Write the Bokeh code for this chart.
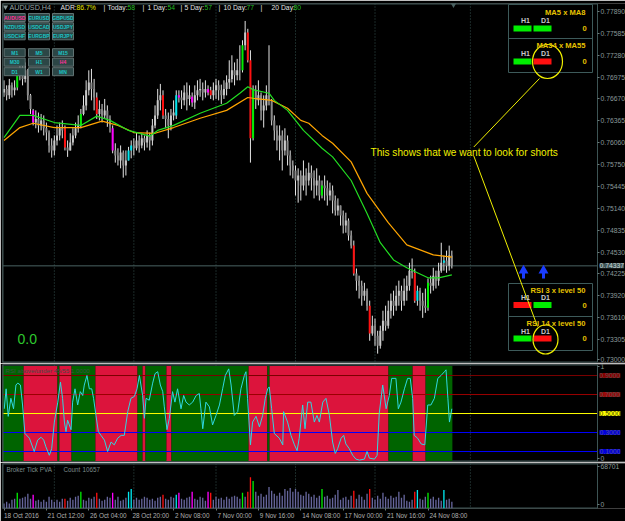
from bokeh.plotting import figure
from bokeh.layouts import column
from bokeh.models import Range1d, FixedTicker, Label, Span, NumeralTickFormatter, LinearAxis
from bokeh.embed import file_html
from bokeh.resources import INLINE

# ---------------- data (prices in 1/10000) ----------------
open_p4 = [7676, 7681, 7672, 7686, 7679, 7683, 7700, 7704, 7695, 7707,
           7672, 7651, 7634, 7639, 7630, 7637, 7626, 7620, 7602, 7595,
           7609, 7616, 7626, 7626, 7599, 7595, 7606, 7616, 7626, 7630,
           7646, 7658, 7679, 7690, 7681, 7669, 7646, 7653, 7644, 7651,
           7639, 7626, 7595, 7588, 7581, 7592, 7574, 7581, 7595, 7602,
           7598, 7609, 7602, 7612, 7606, 7616, 7609, 7630, 7644, 7665,
           7672, 7644, 7639, 7630, 7644, 7644, 7672, 7669, 7665, 7676,
           7667, 7670, 7662, 7672, 7679, 7681, 7676, 7681, 7679, 7672,
           7679, 7686, 7679, 7672, 7681, 7690, 7695, 7707, 7700, 7707,
           7707, 7742, 7760, 7721, 7612, 7679, 7665, 7672, 7651, 7658,
           7672, 7665, 7637, 7623, 7609, 7616, 7595, 7609, 7588, 7574,
           7567, 7553, 7560, 7546, 7560, 7553, 7564, 7556, 7546, 7553,
           7532, 7546, 7542, 7532, 7539, 7525, 7511, 7518, 7504, 7490,
           7497, 7476, 7462, 7423, 7413, 7406, 7392, 7399, 7378, 7339,
           7350, 7336, 7322, 7343, 7357, 7350, 7371, 7385, 7378, 7392,
           7399, 7385, 7399, 7406, 7427, 7424, 7385, 7399, 7385, 7378,
           7375, 7410, 7406, 7420, 7413, 7427, 7438, 7441, 7434, 7448]
high_p4 = [7693, 7686, 7695, 7690, 7693, 7707, 7716, 7714, 7718, 7709,
           7674, 7653, 7651, 7648, 7646, 7644, 7634, 7623, 7612, 7616,
           7630, 7634, 7637, 7630, 7609, 7619, 7626, 7634, 7644, 7653,
           7672, 7693, 7707, 7709, 7695, 7676, 7665, 7660, 7667, 7658,
           7644, 7630, 7605, 7598, 7602, 7595, 7595, 7600, 7609, 7612,
           7620, 7616, 7619, 7616, 7623, 7620, 7639, 7658, 7681, 7688,
           7679, 7653, 7648, 7653, 7665, 7679, 7679, 7679, 7686, 7690,
           7686, 7676, 7686, 7693, 7695, 7690, 7693, 7686, 7684, 7690,
           7695, 7693, 7687, 7693, 7700, 7721, 7728, 7718, 7723, 7742,
           7749, 7776, 7765, 7735, 7686, 7686, 7693, 7676, 7672, 7686,
           7742, 7667, 7644, 7630, 7630, 7623, 7626, 7616, 7595, 7581,
           7574, 7570, 7567, 7581, 7570, 7578, 7574, 7567, 7570, 7560,
           7553, 7560, 7553, 7550, 7546, 7532, 7528, 7518, 7511, 7508,
           7500, 7483, 7469, 7430, 7420, 7413, 7410, 7402, 7385, 7364,
           7360, 7343, 7350, 7371, 7378, 7385, 7395, 7399, 7406, 7413,
           7406, 7416, 7420, 7438, 7444, 7430, 7406, 7403, 7396, 7402,
           7416, 7420, 7431, 7427, 7438, 7466, 7448, 7455, 7462, 7455]
low_p4 = [7670, 7665, 7667, 7669, 7672, 7679, 7693, 7686, 7690, 7665,
          7646, 7630, 7626, 7620, 7623, 7616, 7609, 7592, 7585, 7588,
          7602, 7609, 7612, 7595, 7586, 7595, 7602, 7612, 7620, 7626,
          7644, 7651, 7672, 7665, 7651, 7639, 7637, 7634, 7639, 7628,
          7620, 7591, 7578, 7574, 7570, 7557, 7560, 7581, 7584, 7588,
          7595, 7592, 7598, 7595, 7599, 7595, 7602, 7626, 7639, 7651,
          7639, 7626, 7612, 7623, 7637, 7639, 7662, 7653, 7658, 7651,
          7658, 7656, 7653, 7665, 7670, 7665, 7669, 7672, 7667, 7665,
          7667, 7665, 7660, 7667, 7672, 7681, 7690, 7686, 7693, 7693,
          7704, 7735, 7718, 7578, 7609, 7653, 7658, 7637, 7627, 7651,
          7658, 7630, 7609, 7595, 7581, 7567, 7588, 7574, 7560, 7556,
          7532, 7522, 7525, 7539, 7532, 7546, 7539, 7528, 7532, 7525,
          7528, 7525, 7518, 7525, 7507, 7504, 7504, 7490, 7479, 7480,
          7469, 7458, 7420, 7399, 7388, 7378, 7385, 7371, 7329, 7336,
          7322, 7311, 7318, 7329, 7343, 7346, 7360, 7364, 7371, 7378,
          7371, 7378, 7385, 7399, 7416, 7382, 7378, 7371, 7361, 7368,
          7371, 7395, 7399, 7402, 7406, 7424, 7427, 7424, 7427, 7430]
close_p4 = [7681, 7672, 7686, 7679, 7683, 7700, 7704, 7695, 7707, 7672,
            7653, 7634, 7639, 7630, 7637, 7626, 7620, 7602, 7595, 7609,
            7616, 7626, 7623, 7599, 7595, 7606, 7616, 7626, 7630, 7646,
            7658, 7679, 7690, 7681, 7669, 7646, 7653, 7644, 7651, 7639,
            7630, 7595, 7588, 7581, 7592, 7574, 7581, 7595, 7602, 7598,
            7609, 7602, 7612, 7606, 7616, 7609, 7630, 7644, 7665, 7672,
            7644, 7639, 7630, 7644, 7648, 7672, 7669, 7665, 7676, 7667,
            7672, 7662, 7672, 7679, 7681, 7676, 7681, 7676, 7672, 7679,
            7686, 7679, 7672, 7681, 7690, 7695, 7707, 7700, 7707, 7707,
            7742, 7760, 7721, 7612, 7679, 7665, 7672, 7651, 7658, 7672,
            7665, 7637, 7623, 7609, 7616, 7595, 7609, 7588, 7574, 7567,
            7553, 7560, 7546, 7560, 7553, 7564, 7556, 7546, 7553, 7532,
            7546, 7542, 7532, 7539, 7525, 7511, 7518, 7504, 7490, 7497,
            7476, 7462, 7423, 7413, 7406, 7392, 7399, 7378, 7339, 7350,
            7336, 7322, 7343, 7357, 7350, 7371, 7385, 7378, 7392, 7399,
            7385, 7399, 7406, 7427, 7424, 7385, 7399, 7385, 7378, 7375,
            7410, 7406, 7420, 7413, 7427, 7438, 7441, 7434, 7448, 7434]

# PVA highlighted bars
pva_red = [23, 35, 60, 78, 92, 93, 132, 138, 155]
pva_green = [5, 29, 90, 94, 120, 160]
pva_magenta = [11, 41, 66, 71, 77]
pva_cyan = [47, 48, 65, 156, 166]

volume = [8000, 11200, 8000, 14400, 16000, 25600, 16000, 17600, 19200, 24000,
          16000, 22400, 12800, 14400, 11200, 14400, 11200, 19200, 14400, 11200,
          14400, 11200, 16000, 16000, 12800, 17600, 14400, 19200, 20800, 27200,
          14400, 12800, 17600, 16000, 19200, 25600, 16000, 12800, 14400, 19200,
          17600, 25600, 14400, 19200, 12800, 14400, 17600, 27200, 32000, 14400,
          17600, 14400, 16000, 19200, 17600, 14400, 16000, 12800, 17600, 19200,
          22400, 16000, 14400, 19200, 17600, 22400, 25600, 16000, 14400, 17600,
          19200, 27200, 16000, 14400, 19200, 17600, 12800, 27200, 25600, 14400,
          19200, 16000, 17600, 14400, 19200, 16000, 19200, 20800, 19200, 16000,
          25600, 19200, 27200, 51200, 44800, 27200, 20800, 24000, 19200, 22400,
          35200, 28800, 24000, 20800, 25600, 20800, 32000, 28800, 33600, 27200,
          32000, 27200, 22400, 20800, 27200, 24000, 19200, 22400, 17600, 20800,
          32000, 19200, 20800, 16000, 17600, 22400, 30400, 14400, 17600, 19200,
          14400, 20800, 28800, 16000, 22400, 19200, 14400, 24000, 32000, 17600,
          14400, 20800, 16000, 25600, 19200, 16000, 20800, 17600, 19200, 27200,
          17600, 22400, 12800, 11200, 14400, 27200, 30400, 16000, 14400, 19200,
          25600, 16000, 19200, 14400, 17600, 12800, 30400, 14400, 16000, 11200]

ma_fast_bar = [0, 6, 11, 19, 29, 35, 40, 47, 55, 58, 64, 74, 84, 89, 92, 94, 100, 102,
               107, 113, 120, 124, 131, 137, 142, 147, 152, 160, 164, 169]
ma_fast_p4 = [7613, 7644, 7644, 7634, 7630, 7643, 7637, 7623, 7615, 7623, 7630, 7647,
              7661, 7675, 7684, 7680, 7675, 7665, 7651, 7623, 7598, 7586, 7553, 7507,
              7466, 7442, 7431, 7417, 7417, 7421]
ma_slow_bar = [0, 6, 11, 19, 29, 37, 43, 49, 57, 64, 74, 84, 92, 94, 101, 107, 112, 115,
               120, 124, 131, 137, 145, 152, 162, 169]
ma_slow_p4 = [7609, 7627, 7633, 7627, 7627, 7636, 7630, 7620, 7619, 7627, 7640, 7651,
              7669, 7668, 7665, 7654, 7637, 7633, 7616, 7605, 7579, 7535, 7494, 7463,
              7449, 7446]

rsi_bar = [0.1, 0.8, 1.6, 2.6, 3.6, 4.5, 5.2, 6.2, 7.0, 7.9,
           9.6, 11.4, 12.7, 14.0, 15.0, 15.8, 17.1, 18.0, 19.0, 20.3,
           21.3, 22.1, 22.8, 23.4, 24.0, 25.3, 25.9, 26.8, 27.8, 28.8,
           29.7, 30.3, 31.3, 32.2, 33.1, 33.8, 34.7, 35.6, 36.6, 37.9,
           39.1, 40.4, 41.6, 42.9, 44.2, 45.4, 46.7, 47.9, 49.2, 50.2,
           51.1, 52.3, 53.0, 53.6, 54.8, 56.1, 57.0, 58.0, 59.0, 59.9,
           60.5, 61.5, 62.4, 63.6, 64.5, 65.5, 66.8, 67.8, 68.7, 69.9,
           71.2, 72.5, 73.7, 74.3, 75.0, 76.2, 77.5, 78.7, 80.0, 81.3,
           82.5, 83.5, 84.8, 85.7, 86.9, 88.2, 89.4, 90.7, 91.3, 91.9,
           93.0, 93.8, 95.1, 96.4, 97.6, 98.6, 99.5, 100.1, 101.0, 102.0,
           103.9, 105.2, 105.5, 107.0, 108.3, 109.6, 110.6, 111.4, 112.7, 113.6,
           114.6, 115.8, 117.1, 118.1, 119.0, 120.3, 121.5, 122.8, 124.0, 125.0,
           125.9, 127.2, 128.2, 129.0, 130.3, 131.6, 132.8, 134.1, 136.0, 137.0,
           137.9, 139.8, 140.8, 141.6, 142.9, 144.2, 145.4, 146.3, 147.9, 148.8,
           149.8, 151.1, 152.3, 153.3, 154.2, 154.8, 156.1, 157.4, 158.8, 159.9,
           161.1, 162.4, 163.7, 164.9, 166.2, 166.8, 167.5, 168.1, 169.0]
rsi_val = [0.55, 0.76, 0.47, 0.66, 0.55, 0.80, 0.82, 0.80, 0.59, 0.29,
           0.24, 0.10, 0.22, 0.25, 0.22, 0.15, 0.06, 0.13, 0.41, 0.62,
           0.83, 0.66, 0.41, 0.31, 0.43, 0.33, 0.62, 0.76, 0.59, 0.73,
           0.69, 0.80, 0.90, 0.76, 0.76, 0.66, 0.48, 0.31, 0.27, 0.22,
           0.10, 0.20, 0.17, 0.24, 0.27, 0.27, 0.52, 0.66, 0.68, 0.76,
           0.90, 0.69, 0.45, 0.66, 0.64, 0.82, 0.92, 0.94, 0.80, 0.73,
           0.57, 0.33, 0.45, 0.73, 0.62, 0.76, 0.55, 0.69, 0.62, 0.59,
           0.62, 0.69, 0.71, 0.55, 0.34, 0.62, 0.57, 0.38, 0.48, 0.59,
           0.76, 0.90, 0.97, 0.80, 0.48, 0.52, 0.76, 0.90, 0.94, 0.66,
           0.17, 0.41, 0.47, 0.36, 0.48, 0.66, 0.76, 0.78, 0.55, 0.29,
           0.24, 0.17, 0.52, 0.41, 0.27, 0.17, 0.11, 0.24, 0.59, 0.34,
           0.62, 0.62, 0.41, 0.48, 0.41, 0.62, 0.66, 0.48, 0.20, 0.08,
           0.13, 0.24, 0.27, 0.18, 0.13, 0.06, 0.02, 0.01, 0.02, 0.10,
           0.03, 0.02, 0.06, 0.50, 0.80, 0.55, 0.69, 0.87, 0.87, 0.55,
           0.62, 0.76, 0.87, 0.87, 0.66, 0.27, 0.24, 0.18, 0.17, 0.59,
           0.59, 0.66, 0.87, 0.90, 0.94, 0.96, 0.66, 0.41, 0.55]

band_start = [-0.5, 7.4, 20.2, 20.9, 25.5, 34.5, 50.4, 52.3, 53.4, 61.3, 63.2, 92.3,
              99.4, 100.2, 145.1, 154.2, 159.1]
band_end = [7.4, 20.2, 20.9, 25.5, 34.5, 50.4, 52.3, 53.4, 61.3, 63.2, 92.3, 99.4,
            100.2, 145.1, 154.2, 159.1, 169.2]
band_up = [True, False, True, False, True, False, True, False, True, False, True,
           False, True, False, True, False, True]

rsi_levels = [0.9, 0.7, 0.5, 0.3, 0.1]
rsi_level_text = ["0.9000", "0.7000", "0.5000", "0.3000", "0.1000"]

price_ticks = [0.77890, 0.77585, 0.77280, 0.76975, 0.76670, 0.76365, 0.76060, 0.75750,
               0.75445, 0.75140, 0.74835, 0.74530, 0.74225, 0.73920, 0.73610, 0.73305]
price_bottom_label = "0.73000"
current_price = 0.74337
vol_top_label = 68701

date_tick_bar = [0, 16, 32, 48, 64, 80, 96, 112, 128, 144, 160]
date_tick_label = ["18 Oct 2016", "21 Oct 12:00", "26 Oct 04:00", "28 Oct 20:00",
                   "2 Nov 08:00", "7 Nov 00:00", "9 Nov 16:00", "14 Nov 08:00",
                   "17 Nov 00:00", "21 Nov 16:00", "24 Nov 08:00"]
week_start_bar = [19, 49, 80, 110, 140, 176]

symbols = ["AUDUSD", "EURUSD", "GBPUSD", "NZDUSD", "USDCAD", "USDJPY",
           "USDCHF", "EURGBP", "EURJPY"]
timeframes = ["M1", "M5", "M15", "M30", "H1", "H4", "D1", "W1", "MN"]

# ---------------- layout constants (pixels) ----------------
FONT = "Liberation Sans"
FRAME_COL = "#3d5454"
AXIS_TXT = "#8a9999"
PX_PER_BAR = 2.65
BAR0_PX = 3.5
FRAME_L, FRAME_R = 2, 625     # frame spans the full width
AXIS_PX = 597                 # price scale drawn at this x
P_LO, P_HI = 0.72986, 0.78004
PF_TOP, PF_BOT = 3, 362
R_LO, R_HI = -0.005, 1.016
RF_TOP, RF_BOT = 364, 461
V_HI = 73500
VF_TOP, VF_BOT = 463, 509


def bx(px):
    return (px - BAR0_PX) / PX_PER_BAR


def py_price(py):
    return P_LO + (PF_BOT - py) * (P_HI - P_LO) / (PF_BOT - PF_TOP)


def py_rsi(py):
    return R_LO + (RF_BOT - py) * (R_HI - R_LO) / (RF_BOT - RF_TOP)


def py_vol(py):
    return (VF_BOT - py) * V_HI / (VF_BOT - VF_TOP)


def put(fig, x, y, text, color, size="7px", align="left", bold=False, bg=None):
    lab = Label(x=x, y=y, text=text, text_color=color, text_font_size=size,
                text_font=FONT, text_align=align, text_baseline="middle",
                text_font_style="bold" if bold else "normal")
    if bg is not None:
        lab.background_fill_color = bg
    fig.add_layout(lab)


# Liberation Sans advance widths (em) for left-aligning date labels
CHAR_W = {"0": .556, "1": .556, "2": .556, "3": .556, "4": .556, "5": .556,
          "6": .556, "7": .556, "8": .556, "9": .556, " ": .278, ":": .278,
          "O": .778, "N": .722, "c": .5, "t": .278, "o": .556, "v": .5}
NBSP_W = 0.278


def left_aligned(text, size_px, first=False, gap_px=1.5):
    if first:
        return "\u00a0\u00a0" + text
    w = sum(CHAR_W.get(ch, .55) for ch in text) * size_px
    k = int(round((w + 2 * gap_px) / (NBSP_W * size_px)))
    return "\u00a0" * k + text


n = len(close_p4)
bars = list(range(n))
o = [v / 10000 for v in open_p4]
h = [v / 10000 for v in high_p4]
l = [v / 10000 for v in low_p4]
c = [v / 10000 for v in close_p4]

RED, GREEN, MAG, CYAN = "#ff1010", "#00ee00", "#ff00ff", "#00e8f0"
pva = {}
for i in pva_red:
    pva[i] = RED
for i in pva_green:
    pva[i] = GREEN
for i in pva_magenta:
    pva[i] = MAG
for i in pva_cyan:
    pva[i] = CYAN
body_col = [pva.get(i, "#c8c8c8" if c[i] >= o[i] else "#8a8a8a") for i in bars]
vol_col = [pva.get(i, "#66669c") for i in bars]
btop = [max(o[i], c[i]) for i in bars]
bbot = [min(o[i], c[i]) for i in bars]

xr = Range1d(bx(FRAME_L), bx(FRAME_R))


def base_fig(height, yr, top, bottom):
    f = figure(width=625, height=height, x_range=xr, y_range=yr,
               x_axis_location=None, y_axis_location="right",
               output_backend="svg", toolbar_location=None,
               min_border_left=FRAME_L, min_border_right=0,
               min_border_top=top, min_border_bottom=bottom,
               background_fill_color="black", border_fill_color="black",
               outline_line_color=None)
    f.xgrid.grid_line_color = None
    f.ygrid.grid_line_color = None
    ax = f.yaxis[0]
    ax.fixed_location = bx(AXIS_PX)
    ax.axis_line_color = FRAME_COL
    ax.major_tick_line_color = "#6a7a7a"
    ax.major_tick_out = 2
    ax.major_tick_in = 0
    ax.minor_tick_line_color = None
    ax.major_label_standoff = 1
    ax.major_label_text_color = AXIS_TXT
    ax.major_label_text_font = FONT
    ax.major_label_text_font_size = "6.8px"
    for b in week_start_bar:
        f.add_layout(Span(location=b, dimension="height", line_color="#35524f",
                          line_dash="1 2", line_width=1, level="underlay"))
    # window border (left, top, bottom) up to the price scale
    f.add_layout(Span(location=xr.start, dimension="height", line_color=FRAME_COL,
                      line_width=2))
    f.segment(x0=[xr.start, xr.start], y0=[yr.start, yr.end],
              x1=[bx(AXIS_PX), bx(AXIS_PX)], y1=[yr.start, yr.end],
              line_color=FRAME_COL, line_width=2)
    return f


# ================= price panel =================
p = base_fig(363, Range1d(P_LO, P_HI), PF_TOP, 363 - PF_BOT)
price_bottom_pos = round(py_price(359.5), 5)
p.yaxis.ticker = FixedTicker(ticks=price_ticks + [price_bottom_pos])
p.yaxis.formatter = NumeralTickFormatter(format="0.00000")
p.yaxis.major_label_overrides = {price_bottom_pos: price_bottom_label}

p.segment(x0=[xr.start], y0=[current_price], x1=[bx(AXIS_PX)], y1=[current_price],
          line_color="#4a6262", line_width=1)
p.segment(x0=bars, y0=l, x1=bars, y1=h, line_color="#e4e4e4", line_width=1)
p.vbar(x=bars, width=0.75, top=btop, bottom=bbot, fill_color=body_col, line_color=None)
p.line(ma_slow_bar, [v / 10000 for v in ma_slow_p4], line_color="#ffa500", line_width=1.2)
p.line(ma_fast_bar, [v / 10000 for v in ma_fast_p4], line_color="#22dd22", line_width=1.2)

put(p, bx(599), current_price, "0.74337", "#c8d4d4", size="6.8px", bg="#41585a")

# chart shift marker
p.scatter([bx(453)], [py_price(4)], marker="inverted_triangle", size=6,
          fill_color="#4a6262", line_color=None)

# title and ADR line
p.scatter([bx(5)], [py_price(6.5)], marker="inverted_triangle", size=5,
          fill_color="#8a9a9a", line_color=None)
put(p, bx(9), py_price(6.5), "AUDUSD,H4", "#9aa6a6", size="7.2px")
WH, YE, GR = "#e0e0e0", "#e8e800", "#22bb22"
adr_parts = [(60, "ADR:", WH), (76, "86.7%", YE), (103, "|", WH), (107, "Today:", WH),
             (127, "58", GR), (142, "|", WH), (147, "1 Day:", WH), (167, "54", GR),
             (180, "|", WH), (184, "5 Day:", WH), (204, "57", GR), (218, "|", WH),
             (223, "10 Day:", WH), (246, "77", GR), (260, "|", WH), (271, "20 Day:", WH),
             (293, "80", GR)]
for xp, t, col in adr_parts:
    put(p, bx(xp), py_price(6.5), t, col, size="6.8px")

# buttons
col_px = [14.2, 38.5, 62.5]
sym_row_py = [17, 26.3, 35.3]
tf_row_py = [52.2, 61.7, 71.2]
for rows, labels, active in ((sym_row_py, symbols, "AUDUSD"), (tf_row_py, timeframes, "H4")):
    bxs, bys, txt = [], [], []
    for k, t in enumerate(labels):
        bxs.append(bx(col_px[k % 3]))
        bys.append(py_price(rows[k // 3]))
        txt.append(t)
    p.rect(bxs, bys, width=21, height=8, width_units="screen", height_units="screen",
           fill_color="#2c4646", line_color="#607272", line_width=1)
    for xx, yy, t in zip(bxs, bys, txt):
        put(p, xx, yy, t, "#ff3399" if t == active else "#1cc4c4", size="5px",
            align="center", bold=True)

put(p, bx(17), py_price(338), "0.0", "#2ec82e", size="14px")

# info boxes
GOLD = "#e6c200"
for cy, hgt in ((38, 68), (316.5, 67)):
    p.rect([bx(550)], [py_price(cy)], width=84, height=hgt, width_units="screen",
           height_units="screen", fill_color=None, line_color="#3d5a5a", line_width=1)
p.segment(x0=[bx(508), bx(508)], y0=[py_price(38), py_price(316)],
          x1=[bx(592), bx(592)], y1=[py_price(38), py_price(316)],
          line_color="#3d5a5a", line_width=1)
panels = [(12, 20, 28, "MA5 x MA8", GREEN, GREEN),
          (45, 53, 61, "MA34 x MA55", GREEN, RED),
          (289.5, 297, 304.5, "RSI 3 x level 50", RED, GREEN),
          (322.5, 331, 338, "RSI 14 x level 50", GREEN, RED)]
for ty, hy, by, title, c1, c2 in panels:
    put(p, bx(585), py_price(ty), title, GOLD, size="7.6px", align="right", bold=True)
    put(p, bx(525), py_price(hy), "H1", "#c8c8c8", size="7px", align="center", bold=True)
    put(p, bx(545), py_price(hy), "D1", "#c8c8c8", size="7px", align="center", bold=True)
    p.rect([bx(522), bx(542)], [py_price(by), py_price(by)], width=18, height=6,
           width_units="screen", height_units="screen", fill_color=[c1, c2], line_color=None)
    put(p, bx(584), py_price(by), "0", GOLD, size="7.6px", align="center", bold=True)

# blue arrows
p.scatter([bx(523), bx(543)], [py_price(270), py_price(270)], marker="triangle", size=10,
          fill_color="#1a3cff", line_color=None)
p.rect([bx(523), bx(543)], [py_price(275), py_price(275)], width=3, height=6,
       width_units="screen", height_units="screen", fill_color="#1a3cff", line_color=None)

# yellow annotation
YL = "#f0f000"
put(p, bx(370), py_price(152), "This shows that we want to look for shorts", YL,
    size="10.1px")
p.segment(x0=[bx(473.3), bx(473.3)], y0=[py_price(146.5), py_price(155.5)],
          x1=[bx(539), bx(537)], y1=[py_price(78), py_price(326)],
          line_color=YL, line_width=1)
p.ellipse([bx(547), bx(545)], [py_price(61), py_price(339)], width=[30, 25],
          height=[34, 29], width_units="screen", height_units="screen",
          fill_color=None, line_color=YL, line_width=1.2)

# ================= RSI panel =================
r = base_fig(99, Range1d(R_LO, R_HI), 1, 1)
rsi_zero_pos = round(py_rsi(458), 4)
r.yaxis.ticker = FixedTicker(ticks=[rsi_zero_pos, 1])
r.yaxis.major_label_overrides = {rsi_zero_pos: "0", 1: "1"}
r.quad(left=band_start, right=band_end, top=1.0, bottom=0.0,
       fill_color=["#006400" if u else "#dc143c" for u in band_up], line_color=None)
level_col = ["#7a0000", "#9a0000", "#ffff00", "#0000ff", "#0000ff"]
level_bg = ["#8b0000", "#9c0a0a", "#ffff00", "#0000dd", "#0000dd"]
level_txt = ["#505050", "#505050", "#404000", "#505090", "#505090"]
r.segment(x0=[xr.start] * 5, y0=rsi_levels, x1=[bx(AXIS_PX)] * 5, y1=rsi_levels,
          line_color=level_col, line_width=1)
for lv, t, bg, tc in zip(rsi_levels, rsi_level_text, level_bg, level_txt):
    put(r, bx(599), lv, t, tc, size="6.8px", bg=bg)
r.line(rsi_bar, rsi_val, line_color="#30d8e0", line_width=1)
put(r, bx(5), py_rsi(370), "RSI above/under 45/55  1.0000", "#3f4f47", size="6.2px")

# ================= volume panel =================
v = base_fig(59, Range1d(0, V_HI), 1, 521 - VF_BOT)
vol_zero_pos = round(py_vol(505))
v.yaxis.ticker = FixedTicker(ticks=[vol_zero_pos, vol_top_label])
v.yaxis.major_label_overrides = {vol_zero_pos: "0", vol_top_label: str(vol_top_label)}
v.vbar(x=bars, width=0.5, top=volume, bottom=0, fill_color=vol_col, line_color=None)
xa_size = 6.4
xa = LinearAxis(ticker=FixedTicker(ticks=date_tick_bar))
xa.major_label_overrides = {b: left_aligned(t, xa_size, first=(k == 0))
                            for k, (b, t) in enumerate(zip(date_tick_bar, date_tick_label))}
xa.axis_line_color = None
xa.major_tick_line_color = "#6a7a7a"
xa.major_tick_out = 2
xa.major_tick_in = 0
xa.minor_tick_line_color = None
xa.major_label_standoff = 1
xa.major_label_text_color = "#b0b0b0"
xa.major_label_text_font = FONT
xa.major_label_text_font_size = f"{xa_size}px"
v.add_layout(xa, "below")
put(v, bx(6), py_vol(469), "Broker Tick PVA", "#7c8c8c", size="6.3px")
put(v, bx(63), py_vol(469), "Count", "#7c8c8c", size="6.3px")
put(v, bx(82), py_vol(469), "10657", "#7c8c8c", size="6.3px")

layout = column(p, r, v, spacing=0)
open("out.html", "w").write(file_html(layout, INLINE))
